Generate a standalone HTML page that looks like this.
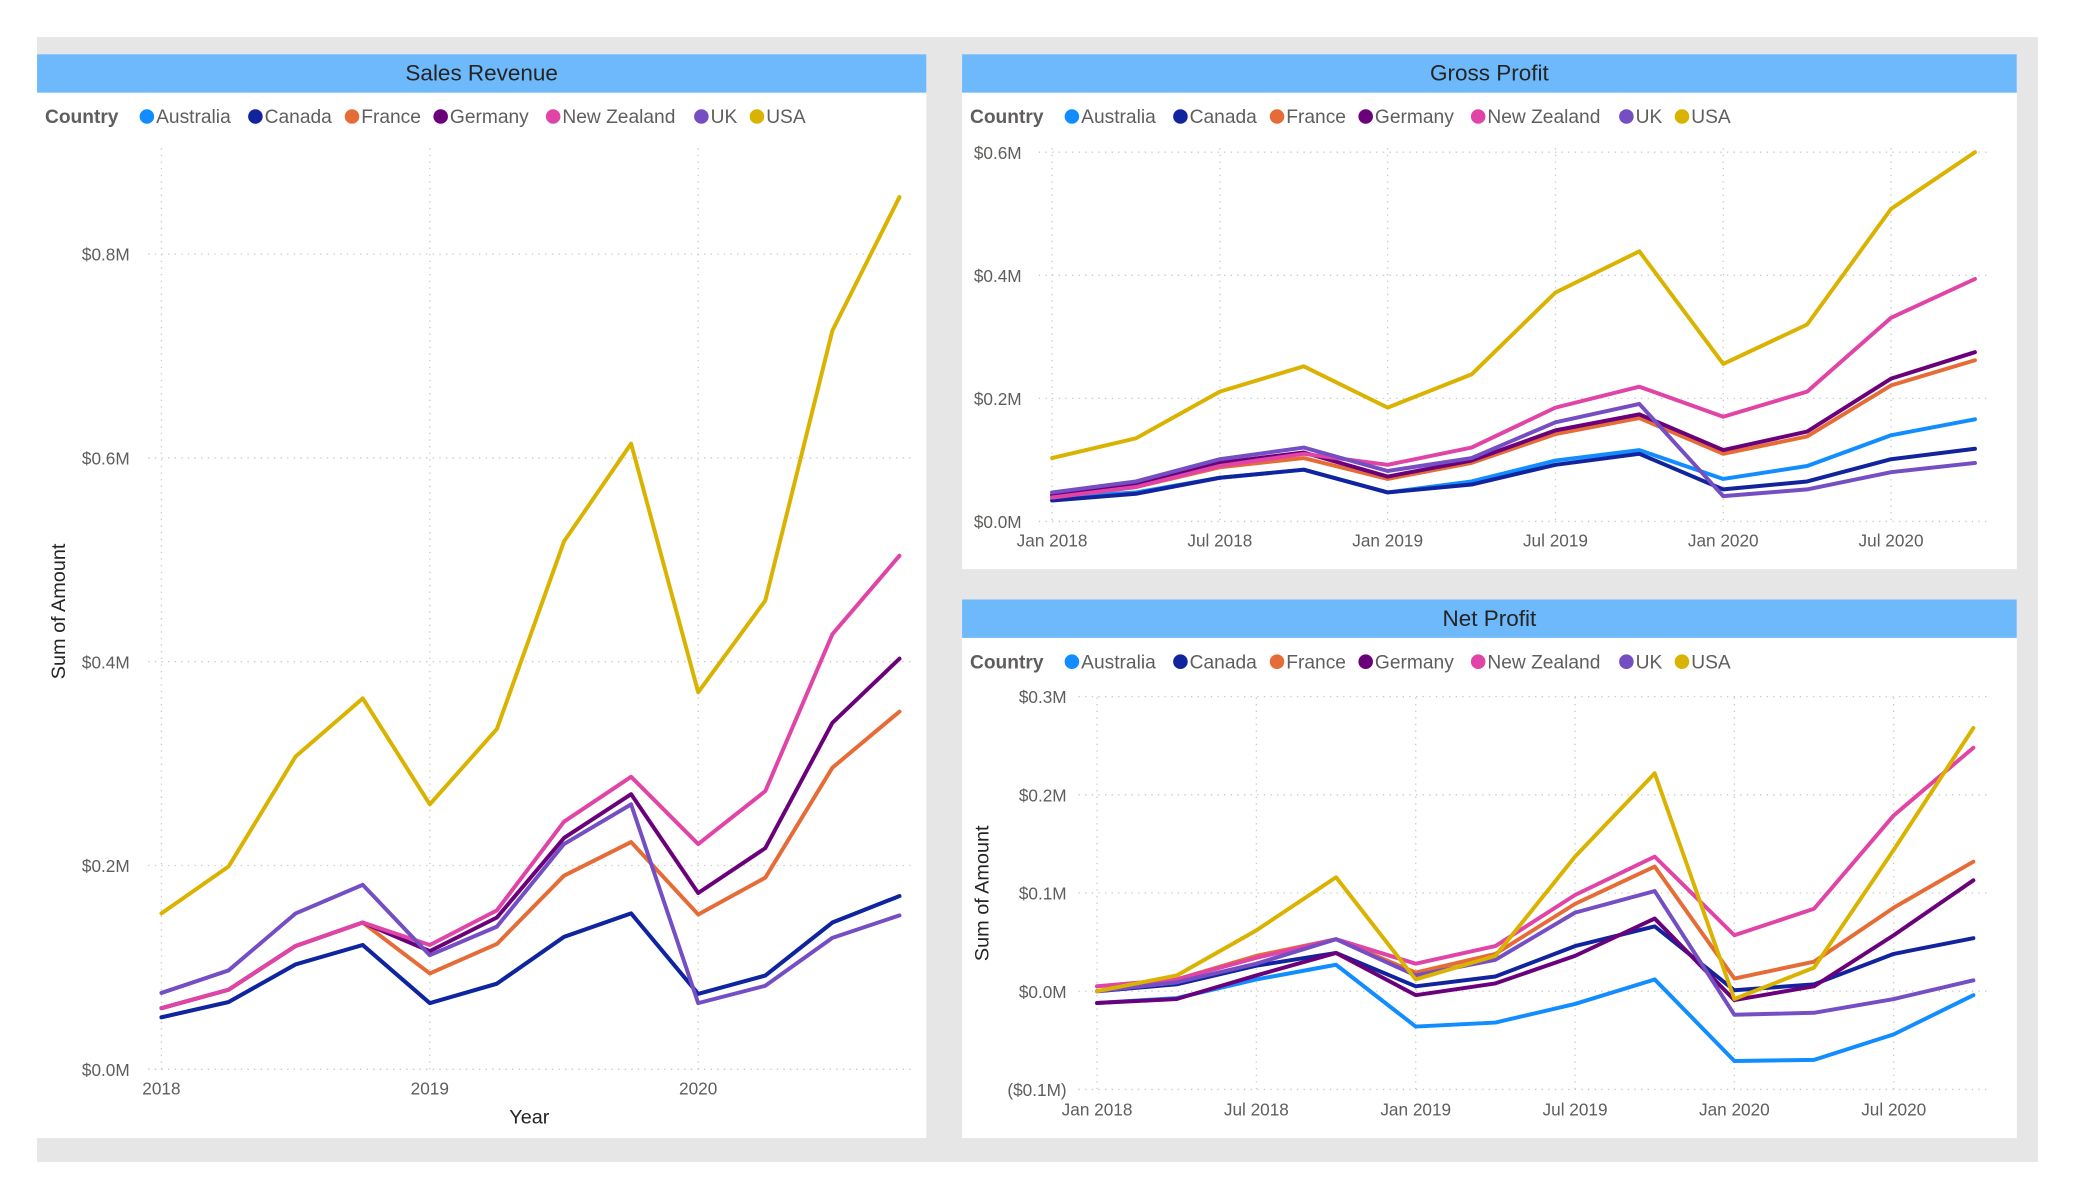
<!DOCTYPE html>
<html><head><meta charset="utf-8"><style>
html,body{margin:0;padding:0;background:#fff;}
svg{display:block;font-family:"Liberation Sans",sans-serif;}
</style></head><body>
<svg id="root" width="2075" height="1200" viewBox="0 0 1568 906.75" xmlns="http://www.w3.org/2000/svg">
<rect x="28" y="28" width="1512" height="850" fill="#e6e6e6"/>
</svg>
<script>
const countries = ["Australia","Canada","France","Germany","New Zealand","UK","USA"];
const colors = ["#118dff","#12239e","#e66c37","#6b007b","#e044a7","#744ec2","#d9b300"];

const salesAustralia = [0.051,0.066,0.103,0.122,0.065,0.084,0.130,0.153,0.074,0.092,0.144,0.170];
const salesCanada = [0.051,0.066,0.103,0.122,0.065,0.084,0.130,0.153,0.074,0.092,0.144,0.170];
const salesFrance = [0.060,0.078,0.121,0.144,0.094,0.123,0.190,0.223,0.152,0.188,0.296,0.351];
const salesGermany = [0.060,0.078,0.121,0.144,0.116,0.149,0.227,0.270,0.173,0.217,0.340,0.403];
const salesNZ = [0.060,0.078,0.121,0.144,0.122,0.156,0.243,0.287,0.221,0.273,0.427,0.504];
const salesUK = [0.075,0.097,0.153,0.181,0.112,0.140,0.221,0.260,0.065,0.082,0.129,0.151];
const salesUSA = [0.153,0.199,0.307,0.364,0.260,0.334,0.518,0.614,0.370,0.460,0.725,0.856];

const grossAustralia = [0.039,0.047,0.071,0.084,0.047,0.065,0.099,0.116,0.069,0.090,0.140,0.166];
const grossCanada = [0.034,0.045,0.071,0.084,0.047,0.060,0.092,0.110,0.052,0.065,0.101,0.118];
const grossFrance = [0.039,0.056,0.088,0.103,0.069,0.095,0.142,0.168,0.110,0.138,0.221,0.262];
const grossGermany = [0.043,0.060,0.095,0.112,0.073,0.099,0.148,0.174,0.116,0.146,0.232,0.275];
const grossNZ = [0.039,0.056,0.090,0.110,0.092,0.120,0.185,0.219,0.170,0.211,0.331,0.394];
const grossUK = [0.047,0.065,0.101,0.120,0.082,0.103,0.161,0.191,0.041,0.052,0.080,0.095];
const grossUSA = [0.103,0.135,0.211,0.252,0.185,0.239,0.372,0.439,0.256,0.320,0.508,0.600];

const netAustralia = [-0.012,-0.007,0.012,0.027,-0.036,-0.032,-0.013,0.012,-0.071,-0.070,-0.044,-0.004];
const netCanada = [0.000,0.007,0.026,0.039,0.005,0.015,0.046,0.066,0.001,0.007,0.038,0.054];
const netFrance = [0.005,0.012,0.036,0.053,0.019,0.038,0.089,0.127,0.013,0.030,0.085,0.132];
const netGermany = [-0.012,-0.008,0.016,0.039,-0.004,0.008,0.036,0.074,-0.009,0.005,0.057,0.113];
const netNZ = [0.005,0.012,0.034,0.053,0.028,0.046,0.098,0.137,0.057,0.084,0.179,0.248];
const netUK = [0.000,0.009,0.028,0.053,0.016,0.032,0.080,0.102,-0.024,-0.022,-0.008,0.011];
const netUSA = [0.000,0.016,0.062,0.116,0.012,0.036,0.137,0.222,-0.008,0.024,0.144,0.268];

const salesTicks = [0,0.2,0.4,0.6,0.8];
const salesTickLabels = ["$0.0M","$0.2M","$0.4M","$0.6M","$0.8M"];
const salesXLabels = ["2018","2019","2020"];
const grossTicks = [0,0.2,0.4,0.6];
const grossTickLabels = ["$0.0M","$0.2M","$0.4M","$0.6M"];
const netTicks = [-0.1,0,0.1,0.2,0.3];
const netTickLabels = ["($0.1M)","$0.0M","$0.1M","$0.2M","$0.3M"];
const dateLabels = ["Jan 2018","Jul 2018","Jan 2019","Jul 2019","Jan 2020","Jul 2020"];

const NS="http://www.w3.org/2000/svg";
const root=document.getElementById('root');
function mk(tag,attrs,parent,text){const e=document.createElementNS(NS,tag);for(const k in attrs)e.setAttribute(k,attrs[k]);if(text!==undefined)e.textContent=text;(parent||root).appendChild(e);return e;}

function panel(cfg){
  const g=mk('g',{});
  
  
  const bg=mk('rect',{x:cfg.x,y:cfg.y,width:cfg.w,height:cfg.h,fill:'#fff'},g);
  
  
  const hd=mk('rect',{x:cfg.x,y:cfg.y,width:cfg.w,height:29,fill:'#6db9fc'},g);
  
  
  const t=mk('text',{x:cfg.x+cfg.w/2,y:cfg.y+20,'text-anchor':'middle','font-size':17,fill:'#252423'},g,cfg.title);
  
  
  // legend
  const lg=mk('g',{},g);
  
  
  const ly=cfg.y+52;
  mk('text',{x:cfg.x+6,y:ly,'font-size':14.5,'font-weight':'bold',fill:'#605e5c'},lg,'Country');
  const dotX=[111,193,266,333,418,530,572];
  countries.forEach((c,i)=>{
    const ent=mk('g',{},lg);
    
    
    const dx=cfg.x-28+dotX[i];
    mk('circle',{cx:dx,cy:ly-5,r:5.5,fill:colors[i]},ent);
    mk('text',{x:dx+7,y:ly,'font-size':14.5,fill:'#605e5c'},ent,c);
  });
  // scales
  const xs=i=>cfg.x0+i*cfg.dx;
  const ys=v=>cfg.yZero-(v/cfg.unit)*cfg.unitPx;
  // grid
  cfg.ticks.forEach((tv,i)=>{
    const y=ys(tv);
    const gl=mk('line',{x1:cfg.gridL,x2:cfg.gridR,y1:y,y2:y,stroke:'#c8c8c8','stroke-width':1,'stroke-dasharray':'1 4'},g);
    
    
    const tl=mk('text',{x:cfg.labelX,y:y+5,'text-anchor':'end','font-size':13,fill:'#605e5c'},g,cfg.tickLabels[i]);
    
    
  });
  cfg.xLabels.forEach((lab,i)=>{
    const x=xs(i*cfg.xStep);
    const vl=mk('line',{x1:x,x2:x,y1:cfg.gridTop,y2:cfg.gridBot,stroke:'#c8c8c8','stroke-width':1,'stroke-dasharray':'1 4'},g);
    
    
    const xl=mk('text',{x:x,y:cfg.xLabelY,'text-anchor':'middle','font-size':13,fill:'#605e5c'},g,lab);
    
    
  });
  if(cfg.xTitle){
    const xt=mk('text',{x:cfg.xTitleX,y:cfg.xTitleY,'text-anchor':'middle','font-size':15,fill:'#252423'},g,cfg.xTitle);
    
    
  }
  if(cfg.yTitle){
    const yt=mk('text',{x:0,y:0,transform:`translate(${cfg.yTitleX},${cfg.yTitleY}) rotate(-90)`,'text-anchor':'middle','font-size':15,fill:'#252423'},g,cfg.yTitle);
    
    
  }
  cfg.series.forEach((s,i)=>{
    const d=s.map((v,j)=>(j?'L':'M')+xs(j).toFixed(1)+' '+ys(v).toFixed(1)).join(' ');
    const p=mk('path',{d:d,fill:'none',stroke:colors[i],'stroke-width':3,'stroke-linejoin':'round','stroke-linecap':'round'},g);
    
    
  });
}

panel({name:'sales-revenue-chart',title:'Sales Revenue',x:28,y:41,w:672,h:819,
  x0:122,dx:50.7,yZero:808,unit:0.2,unitPx:154,ticks:salesTicks,tickLabels:salesTickLabels,
  gridL:112,gridR:690,labelX:98,xLabels:salesXLabels,xStep:4,gridTop:112,gridBot:808,xLabelY:827,
  xTitle:'Year',xTitleX:400,xTitleY:849,yTitle:'Sum of Amount',yTitleX:49,yTitleY:462,
  series:[salesAustralia,salesCanada,salesFrance,salesGermany,salesNZ,salesUK,salesUSA]});

panel({name:'gross-profit-chart',title:'Gross Profit',x:727,y:41,w:797,h:389,
  x0:795,dx:63.4,yZero:394,unit:0.2,unitPx:93,ticks:grossTicks,tickLabels:grossTickLabels,
  gridL:785,gridR:1505,labelX:772,xLabels:dateLabels,xStep:2,gridTop:112,gridBot:394,xLabelY:413,
  series:[grossAustralia,grossCanada,grossFrance,grossGermany,grossNZ,grossUK,grossUSA]});

panel({name:'net-profit-chart',title:'Net Profit',x:727,y:453,w:797,h:407,
  x0:829,dx:60.2,yZero:749,unit:0.1,unitPx:74.2,ticks:netTicks,tickLabels:netTickLabels,
  gridL:815,gridR:1505,labelX:806,xLabels:dateLabels,xStep:2,gridTop:527,gridBot:824,xLabelY:843,
  yTitle:'Sum of Amount',yTitleX:747,yTitleY:675,
  series:[netAustralia,netCanada,netFrance,netGermany,netNZ,netUK,netUSA]});
</script>
</body></html>
